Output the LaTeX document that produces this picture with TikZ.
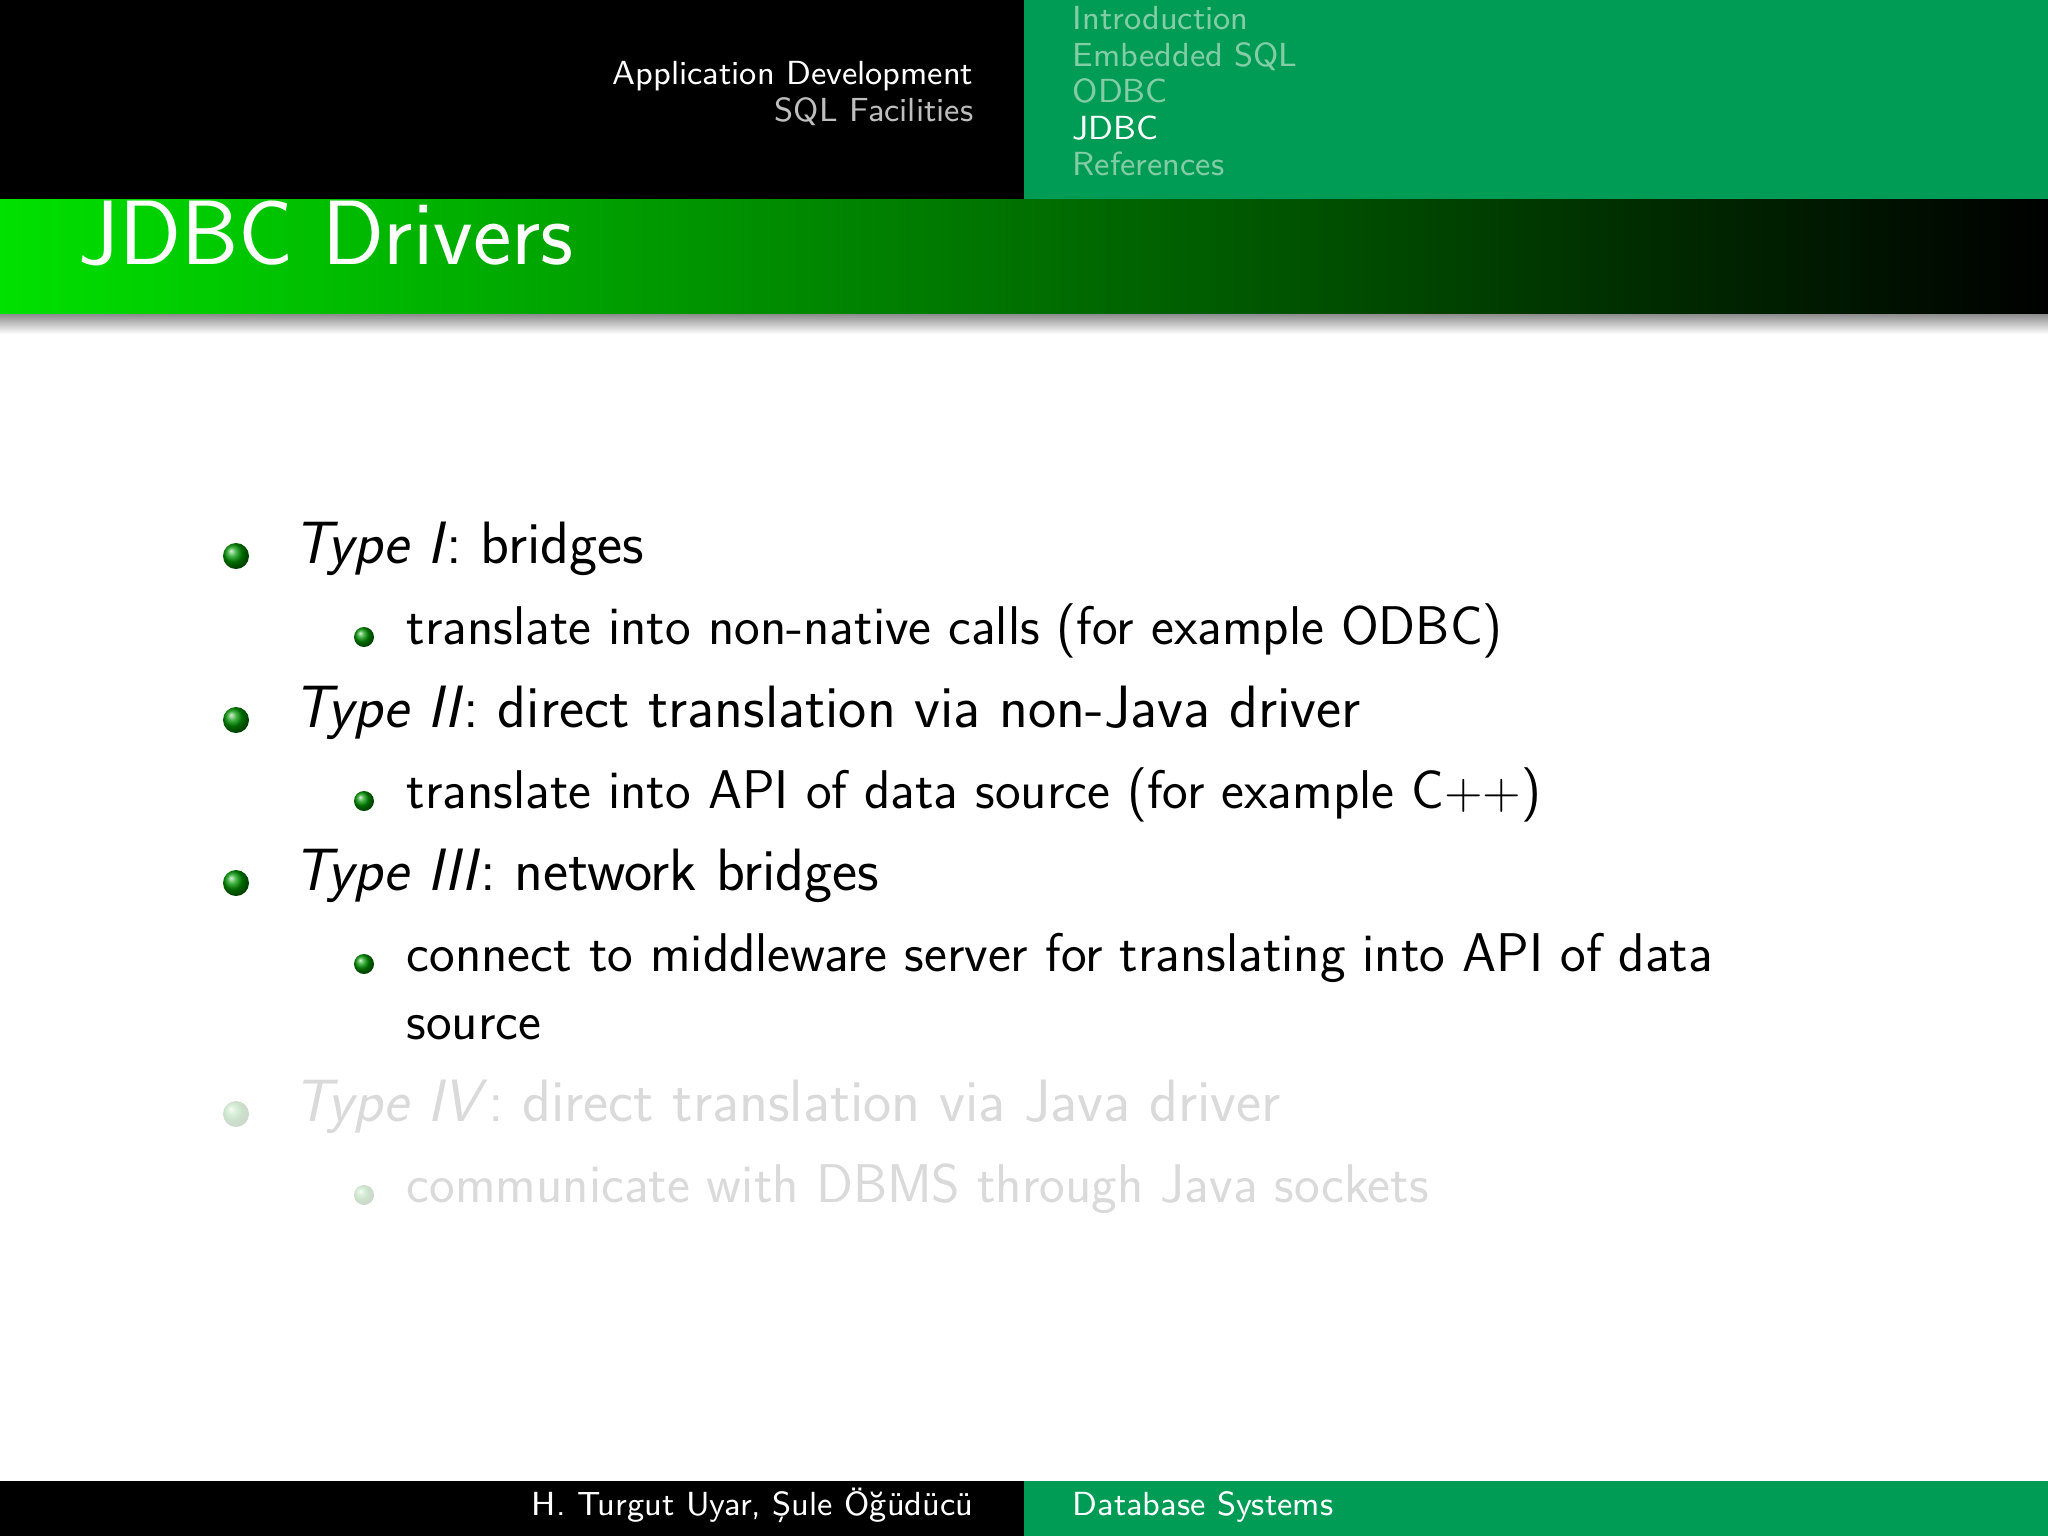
\documentclass[tikz,border=0pt]{standalone}
\usepackage{fontspec}
\setmainfont{Latin Modern Sans}
\usetikzlibrary{shadings}
\definecolor{bandgreen}{RGB}{0,155,85}
\definecolor{fadegreen}{RGB}{130,205,165}
\definecolor{ballgreen}{RGB}{0,150,0}
\definecolor{fadetext}{RGB}{218,218,218}
\definecolor{hdrgray}{RGB}{190,190,190}
\begin{document}
\begin{tikzpicture}[x=0.01cm,y=-0.01cm,
  hdr/.style={font=\fontsize{9.5}{11}\selectfont,inner sep=0},
  main/.style={anchor=mid west,inner sep=0,font=\fontsize{17}{20}\selectfont},
  sub/.style={anchor=mid west,inner sep=0,font=\fontsize{15.5}{19}\selectfont}]
\useasboundingbox (0,0) rectangle (2048,1536);
\fill[white] (0,0) rectangle (2048,1536);
% header
\fill[black] (0,0) rectangle (1024,199);
\fill[bandgreen] (1024,0) rectangle (2048,199);
\node[hdr,white,anchor=mid east] (h1) at (974,77) {Application Development};
\node[hdr,hdrgray,anchor=mid east] (h2) at (974,114) {SQL Facilities};
\node[hdr,fadegreen,anchor=mid west] (s1) at (1072,22) {Introduction};
\node[hdr,fadegreen,anchor=mid west] (s2) at (1072,59) {Embedded SQL};
\node[hdr,fadegreen,anchor=mid west] (s3) at (1072,95) {ODBC};
\node[hdr,white,anchor=mid west] (s4) at (1072,132) {JDBC};
\node[hdr,fadegreen,anchor=mid west] (s5) at (1072,168) {References};
% title bar
\shade[left color={rgb,255:red,0;green,225;blue,0},middle color={rgb,255:red,0;green,110;blue,0},right color=black] (0,199) rectangle (2048,314);
\shade[top color=black!45,bottom color=white] (0,314) rectangle (2048,334);
\node[anchor=mid west,inner sep=0,white,font=\fontsize{26}{30}\selectfont] (title) at (78,257) {JDBC Drivers};
% bullets
\foreach \y/\op in {556/1,720/1,883/1,1114/0.2}{
  \shade[ball color=ballgreen,opacity=\op] (236,\y) circle (13);}
\foreach \y/\op in {637/1,801/1,964/1,1195/0.2}{
  \shade[ball color=ballgreen,opacity=\op] (364,\y) circle (10);}
\node[main] (t1) at (293,556) {\textit{Type I}: bridges};
\node[sub] (u1) at (406,637) {translate into non-native calls (for example ODBC)};
\node[main] (t2) at (293,720) {\textit{Type II}: direct translation via non-Java driver};
\node[sub] (u2) at (406,801) {translate into API of data source (for example C$++$)};
\node[main] (t3) at (293,883) {\textit{Type III}: network bridges};
\node[sub] (u3) at (406,964) {connect to middleware server for translating into API of data};
\node[sub] (u3b) at (406,1032) {source};
\node[main,fadetext] (t4) at (293,1114) {\textit{Type IV}: direct translation via Java driver};
\node[sub,fadetext] (u4) at (406,1195) {communicate with DBMS through Java sockets};
% footer
\fill[black] (0,1481) rectangle (1024,1536);
\fill[bandgreen] (1024,1481) rectangle (2048,1536);
\node[hdr,white,anchor=mid east] (f1) at (974,1508) {H. Turgut Uyar, Şule Öğüdücü};
\node[hdr,white,anchor=mid west] (f2) at (1072,1508) {Database Systems};
\end{tikzpicture}
\end{document}
